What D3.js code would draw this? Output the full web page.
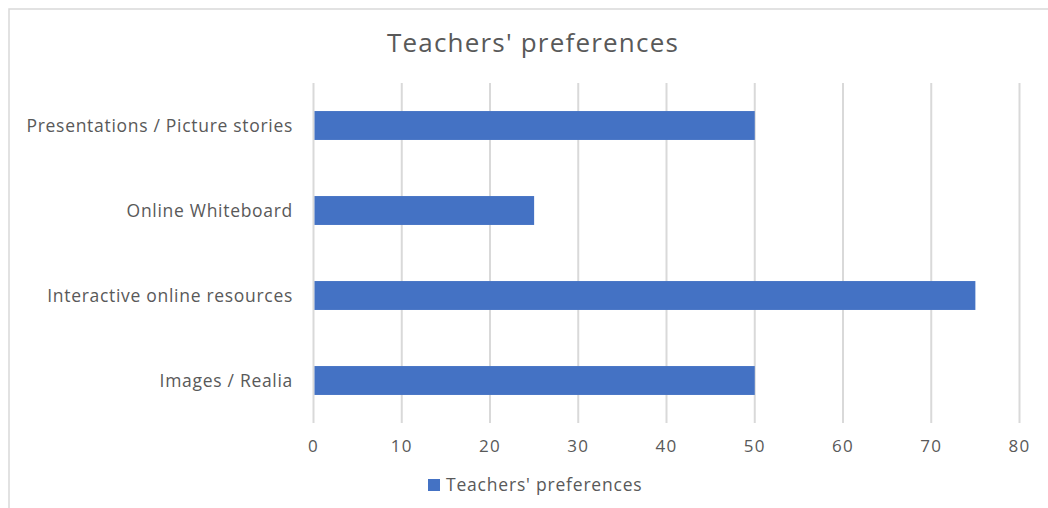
<!DOCTYPE html>
<html>
<head>
<meta charset="utf-8">
<script src="https://cdn.jsdelivr.net/npm/d3@7"></script>
<style>
  html, body { margin: 0; padding: 0; background: #fff; }
  svg { display: block; font-family: "Open Sans", "Noto Sans", sans-serif; }
</style>
</head>
<body>
<svg id="chart" width="1048" height="508"></svg>
<script>
// chart data
const categories = ['Presentations / Picture stories', 'Online Whiteboard', 'Interactive online resources', 'Images / Realia'];
const values = [50, 25, 75, 50];
const tickValues = [0, 10, 20, 30, 40, 50, 60, 70, 80];
const seriesName = "Teachers' preferences";

const svg = d3.select('#chart');
const blue = '#4472c4';
const grey = '#595959';

// outer frame (right and bottom edges are cut off in the picture)
svg.append('rect')
  .attr('x', 9).attr('y', 9)
  .attr('width', 1060).attr('height', 520)
  .attr('fill', 'none')
  .attr('stroke', '#d9d9d9')
  .attr('stroke-width', 1.5);

const x = d3.scaleLinear().domain([0, 80]).range([313.5, 1019.5]);
const y = d3.scaleBand().domain(categories).range([83, 423]).paddingInner(0.66).paddingOuter(0.33);

// gridlines
svg.append('g')
  .selectAll('line')
  .data(tickValues)
  .join('line')
    .attr('x1', d => x(d)).attr('x2', d => x(d))
    .attr('y1', 83).attr('y2', 423)
    .attr('stroke', '#d9d9d9')
    .attr('stroke-width', 2);

// bars
svg.append('g')
  .selectAll('rect')
  .data(categories)
  .join('rect')
    .attr('x', x(0) + 1)
    .attr('y', d => y(d))
    .attr('width', (d, i) => x(values[i]) - x(0) - 1)
    .attr('height', y.bandwidth())
    .attr('fill', blue);

// x tick labels
svg.append('g')
  .selectAll('text')
  .data(tickValues)
  .join('text')
    .attr('x', d => x(d))
    .attr('y', 452)
    .attr('text-anchor', 'middle')
    .attr('font-size', 17)
    .attr('letter-spacing', 1.2)
    .attr('fill', grey)
    .text(d => d);

// category labels
svg.append('g')
  .selectAll('text')
  .data(categories)
  .join('text')
    .attr('x', 293)
    .attr('y', d => y(d) + y.bandwidth() / 2)
    .attr('dy', '0.35em')
    .attr('text-anchor', 'end')
    .attr('font-size', 17.5)
    .attr('letter-spacing', 0.7)
    .attr('fill', grey)
    .text(d => d);

// title
svg.append('text')
  .attr('x', 533)
  .attr('y', 52)
  .attr('text-anchor', 'middle')
  .attr('font-size', 26)
  .attr('letter-spacing', 1.2)
  .attr('fill', grey)
  .text(seriesName);

// legend
const legend = svg.append('g').attr('transform', 'translate(428,479)');
legend.append('rect')
  .attr('width', 12).attr('height', 12)
  .attr('fill', blue);
legend.append('text')
  .attr('x', 18)
  .attr('y', 6)
  .attr('dy', '0.35em')
  .attr('font-size', 17.5)
  .attr('letter-spacing', 0.8)
  .attr('fill', grey)
  .text(seriesName);
</script>
</body>
</html>
